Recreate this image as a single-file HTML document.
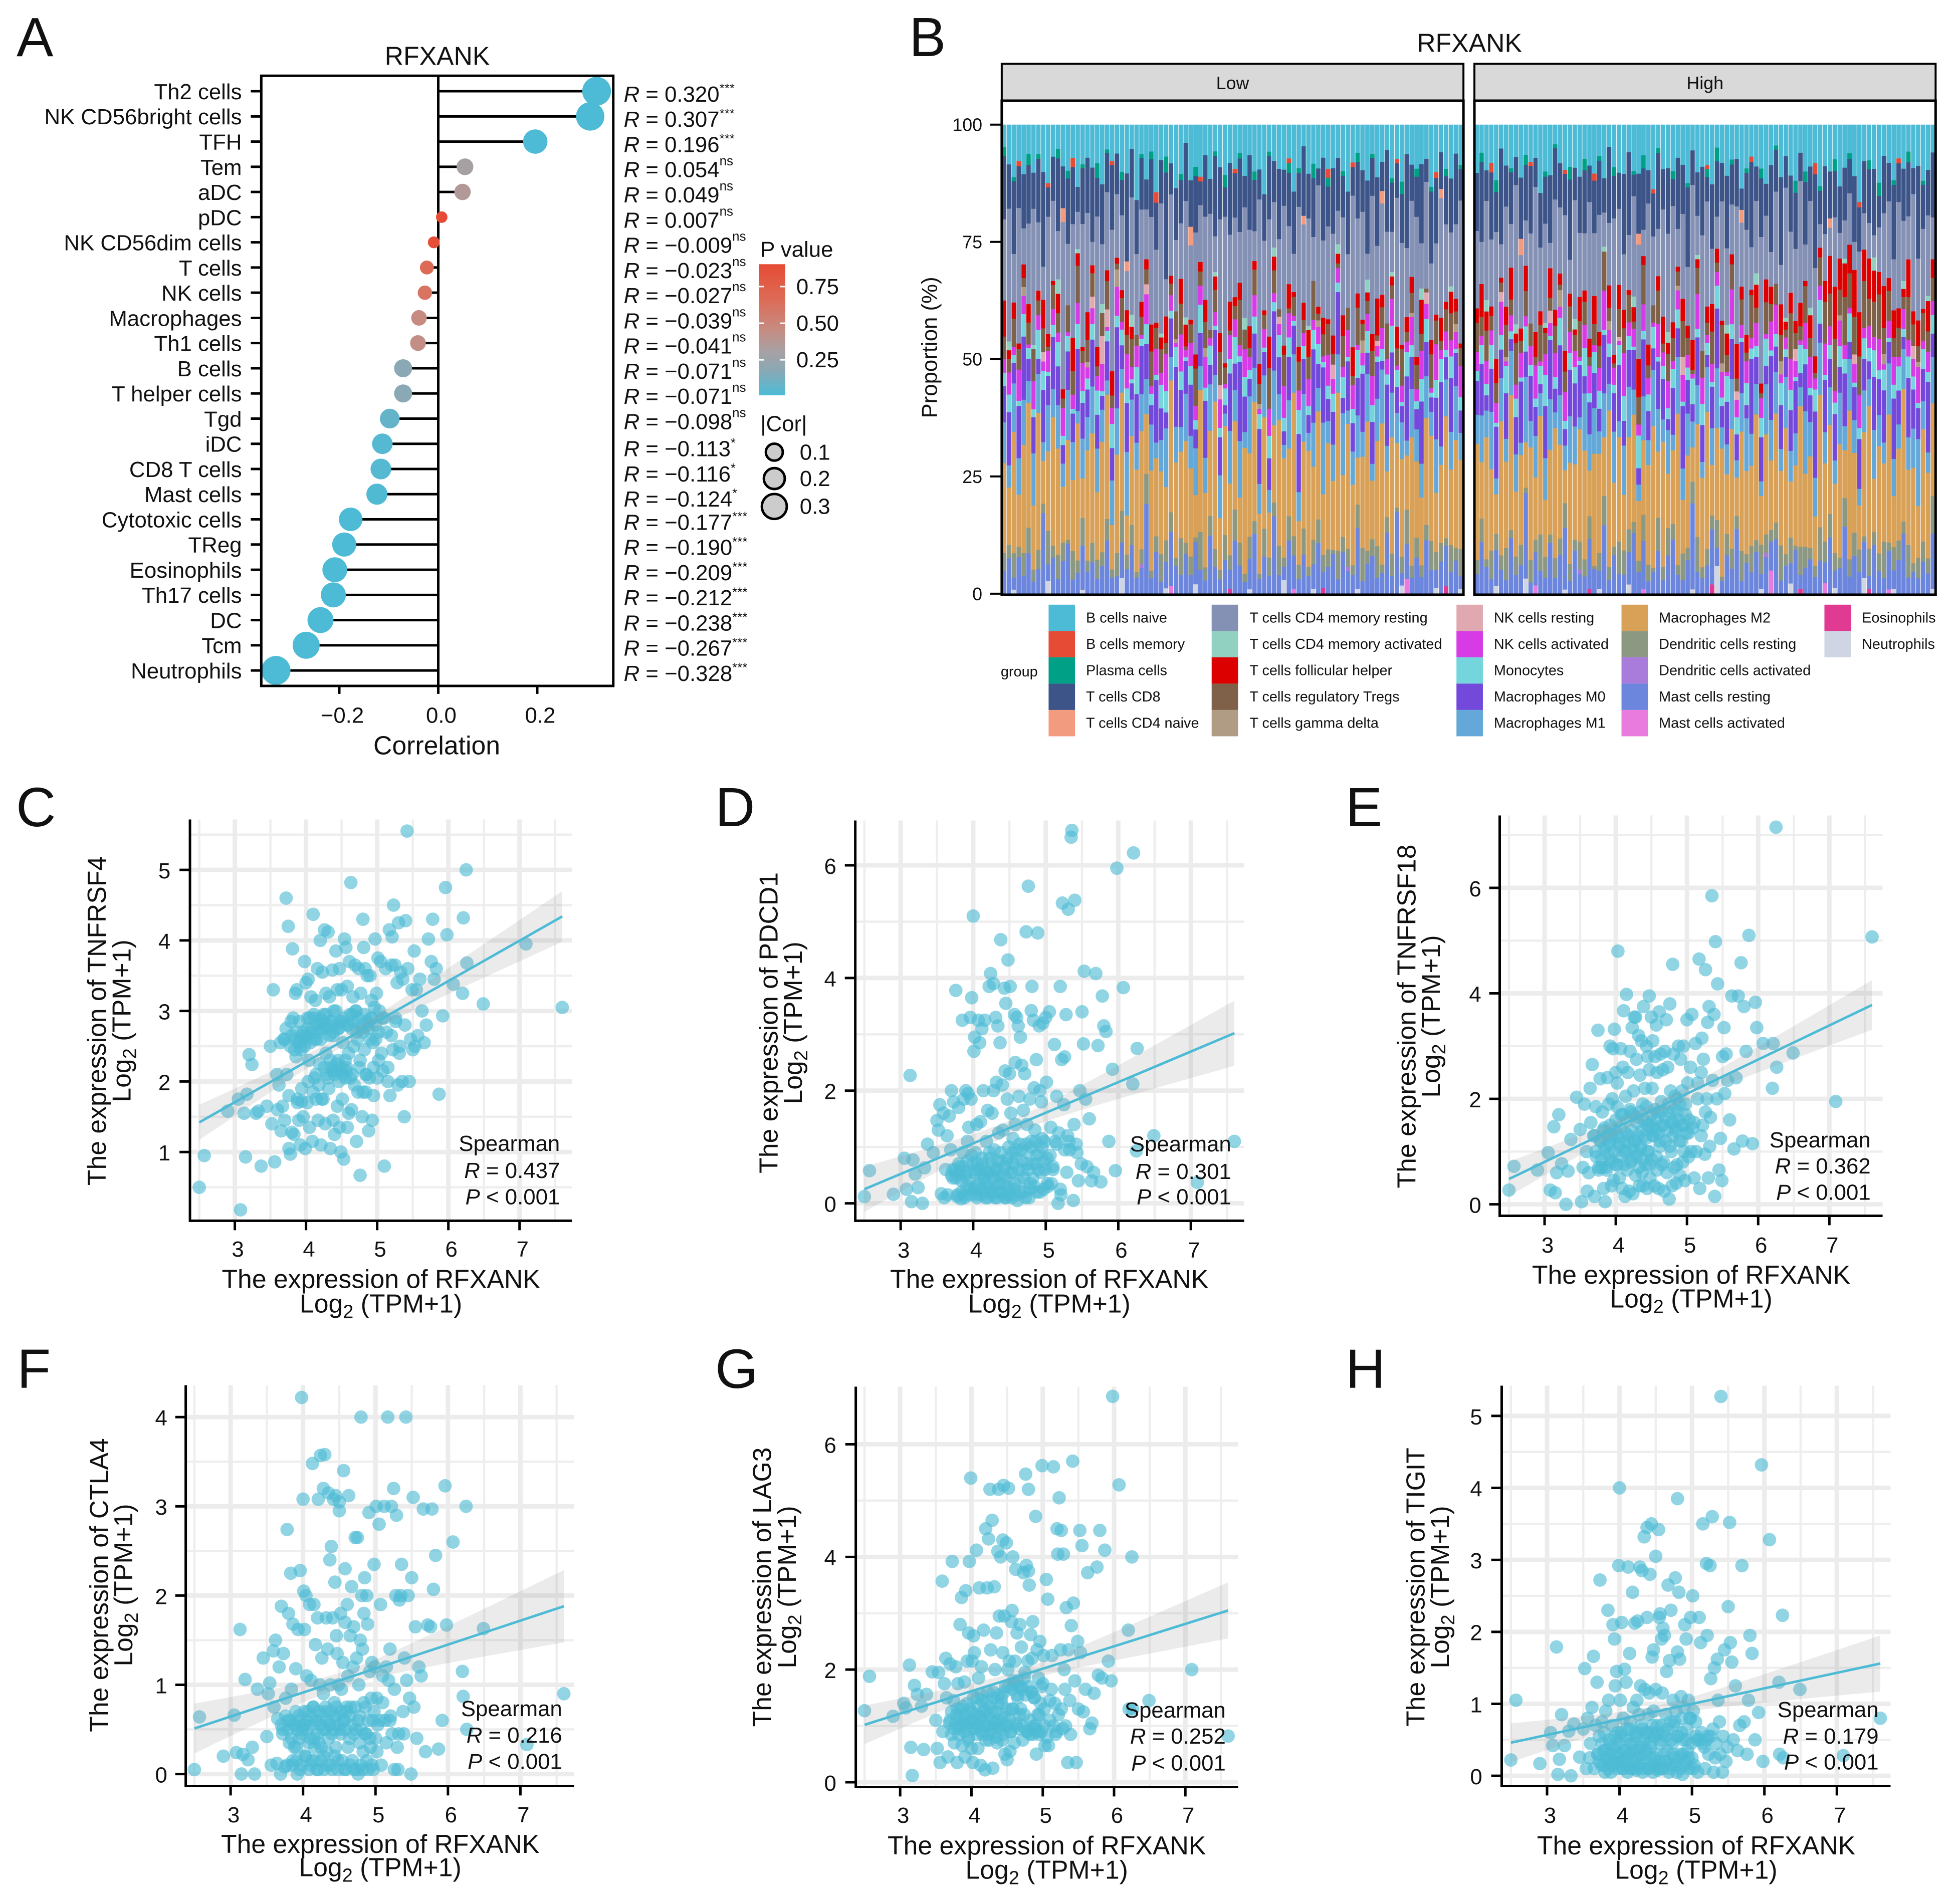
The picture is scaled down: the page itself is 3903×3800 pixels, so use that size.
<!DOCTYPE html>
<html lang="en">
<head>
<meta charset="utf-8">
<title>RFXANK immune correlation figure</title>
<style>
html,body{margin:0;padding:0;background:#fff}
svg{display:block}
text{font-family:"Liberation Sans",Arial,sans-serif;fill:#111}
</style>
</head>
<body>
<svg id="fig" xmlns="http://www.w3.org/2000/svg" width="3903" height="3800" viewBox="0 0 3903 3800">
<defs><linearGradient id="pGrad" x1="0" y1="0" x2="0" y2="1"><stop offset="0" stop-color="#E64B35"/><stop offset="0.26" stop-color="#DD6A55"/><stop offset="0.5" stop-color="#C68C82"/><stop offset="0.66" stop-color="#A8A0A3"/><stop offset="0.81" stop-color="#8AA9B5"/><stop offset="1" stop-color="#4DBBD5"/></linearGradient></defs>
<rect width="3903" height="3800" fill="#fff"/>
<text x="33" y="112" font-size="110">A</text>
<text x="1814" y="112" font-size="110">B</text>
<text x="32" y="1649" font-size="110">C</text>
<text x="1427" y="1649" font-size="110">D</text>
<text x="2685" y="1649" font-size="110">E</text>
<text x="34" y="2770" font-size="110">F</text>
<text x="1427" y="2770" font-size="110">G</text>
<text x="2685" y="2770" font-size="110">H</text>
<g id="panelA" transform="scale(.9949)"></g>
<g id="panelB" transform="translate(1780,0) scale(.9949) translate(-1780,0)"></g>
<g id="panelC" transform="translate(0,1540) scale(.9949) translate(0,-1540)"></g>
<g id="panelD" transform="translate(1440,1540) scale(.9949) translate(-1440,-1540)"></g>
<g id="panelE" transform="translate(2700,1540) scale(.9949) translate(-2700,-1540)"></g>
<g id="panelF" transform="translate(100,2680) scale(.9949) translate(-100,-2680)"></g>
<g id="panelG" transform="translate(1440,2680) scale(.9949) translate(-1440,-2680)"></g>
<g id="panelH" transform="translate(2700,2680) scale(.9949) translate(-2700,-2680)"></g>
</svg>
<script>
/* ---------- Panel A data ---------- */
const cellTypes=["Th2 cells","NK CD56bright cells","TFH","Tem","aDC","pDC","NK CD56dim cells","T cells","NK cells","Macrophages","Th1 cells","B cells","T helper cells","Tgd","iDC","CD8 T cells","Mast cells","Cytotoxic cells","TReg","Eosinophils","Th17 cells","DC","Tcm","Neutrophils"];
const correlations=[0.320,0.307,0.196,0.054,0.049,0.007,-0.009,-0.023,-0.027,-0.039,-0.041,-0.071,-0.071,-0.098,-0.113,-0.116,-0.124,-0.177,-0.190,-0.209,-0.212,-0.238,-0.267,-0.328];
const pValues=[0,0,0,0.31,0.36,0.9,0.87,0.67,0.61,0.46,0.44,0.18,0.18,0.07,0.03,0.03,0.02,0,0,0,0,0,0,0];
const significance=["***","***","***","ns","ns","ns","ns","ns","ns","ns","ns","ns","ns","ns","*","*","*","***","***","***","***","***","***","***"];
const corTicks=[-0.2,0,0.2];
const pLegendTicks=[0.75,0.5,0.25];
const corLegendValues=[0.1,0.2,0.3];

/* ---------- Panel B data: per-bar percentages ---------- */
const seriesNames=["B cells naive","B cells memory","Plasma cells","T cells CD8","T cells CD4 naive","T cells CD4 memory resting","T cells CD4 memory activated","T cells follicular helper","T cells regulatory Tregs","T cells gamma delta","NK cells resting","NK cells activated","Monocytes","Macrophages M0","Macrophages M1","Macrophages M2","Dendritic cells resting","Dendritic cells activated","Mast cells resting","Mast cells activated","Eosinophils","Neutrophils"];
const seriesColors=["#4DBBD5","#E64B35","#00A087","#3C5488","#F39B7F","#8491B4","#91D1C2","#DC0000","#7E6148","#B09C85","#E0A8B0","#D63BE6","#74D6DC","#7349DB","#63A8D8","#D8A157","#8D9882","#A97BDB","#6C86DE","#E87BDD","#E03A93","#D0D5E3"];
const proportionTicks=[100,75,50,25,0];
const groupNames=["Low","High"];
const bNaiveLow=[5,9,13,7,11,8,12,6,10,14,8,5,9,12,7,15,10,6,11,8,13,7,9,5,12,10,6,14,8,11,7,13,9,6,10,16,8,5,12,9,11,7,14,6,9,12,8,10,5,13,7,11,9,15,6,8,12,10,7,14,9,5,11,8,13,6,10,12,7,9,15,8,6,11,13,7,10,9,5,12,8,14,6,10,11,7,9,13,8,6,12,10,7,9];
const bNaiveHigh=[10,6,12,8,14,5,9,11,7,13,6,10,8,15,9,12,5,7,11,10,8,13,6,9,14,7,11,5,10,12,8,6,13,9,7,11,15,5,10,8,12,7,9,14,6,11,8,10,13,5,9,12,7,8,15,10,6,11,9,13,7,5,12,8,10,14,6,9,11,7,13,8,10,6,12,9,5,11,14,7,8,10,13,6,9,12,7,11,5,10,8,14,9,6];
const cd8Low=[14,10,18,8,12,16,9,13,20,7,11,15,9,17,12,6,14,10,19,8,13,11,16,7,9,18,12,10,14,6,15,9,11,20,8,13,7,16,10,12,5,14,9,18,11,7,15,10,13,8,17,12,6,10,14,9,19,8,11,13,7,16,10,12,5,15,9,18,11,8,14,6,12,10,17,9,13,7,16,11,8,12,19,9,10,14,6,15,11,8,13,10,17,7];
const cd8High=[12,17,8,14,10,20,9,13,6,15,11,18,7,12,9,16,13,8,10,19,6,14,11,8,15,12,7,17,10,9,13,18,6,11,14,8,10,16,9,12,7,15,11,19,8,10,13,6,14,12,9,17,8,11,5,13,16,9,12,7,15,10,20,8,11,14,6,12,9,17,7,13,10,8,9,11,6,14,8,10,12,15,7,11,9,16,8,13,10,6,18,11,9,14];
const cd4RestLow=[18,30,12,26,8,22,34,14,7,28,20,10,36,16,24,9,31,18,6,27,13,22,35,11,19,8,29,15,25,10,28,14,33,7,21,18,9,32,16,26,12,19,30,8,24,35,14,18,9,28,22,7,33,15,26,10,19,31,12,8,29,18,24,9,36,14,21,28,7,19,12,32,16,26,6,33,10,22,18,9,30,25,14,19,35,8,28,16,12,26,21,10,18,32];
const cd4RestHigh=[16,9,26,14,32,7,22,11,30,18,9,24,35,14,19,6,28,12,33,8,22,16,10,30,18,26,7,14,32,19,9,12,28,21,6,34,16,10,24,18,30,8,19,14,36,9,22,26,12,7,28,18,10,32,15,24,8,19,30,14,6,22,9,33,12,18,26,7,28,16,5,9,6,12,5,8,9,6,11,7,8,5,10,14,18,11,22,15,8,27,12,20,16,9];
const tfhLow=[8,2,4,1,3,5,0,2,6,3,1,4,2,0,7,3,1,5,2,4,0,3,6,1,2,5,3,0,4,2,7,1,3,5,2,0,4,6,1,3,2,5,0,3,4,1,6,2,3,0,5,2,4,1,7,3,0,2,5,1,3,4,6,0,2,3,1,5,2,4,0,6,3,1,2,4,7,3,0,2,5,1,3,4,2,6,0,3,1,5,2,4,3,1];
const tfhHigh=[3,7,5,2,6,1,4,8,2,3,5,0,6,3,1,7,4,2,5,3,1,6,2,4,8,3,0,5,2,6,3,1,4,7,2,5,0,3,6,2,4,1,5,3,7,2,0,4,6,3,1,5,2,8,3,4,1,6,2,5,3,0,7,2,4,3,5,1,6,3,2,4,8,9,6,7,5,10,8,6,9,7,5,8,3,6,4,2,7,3,5,1,6,4];
const tregLow=[5,3,7,4,2,6,8,3,5,1,6,4,2,7,5,9,3,4,6,2,5,8,3,1,6,4,7,2,5,3,9,4,6,2,3,7,5,1,4,8,3,6,2,5,7,4,1,3,8,5,2,6,4,3,9,5,2,7,1,4,6,3,5,8,2,4,7,3,1,6,5,2,8,4,3,6,1,5,7,3,4,9,2,5,6,3,1,7,4,2,6,5,3,4];
const tregHigh=[6,4,8,3,5,2,7,4,9,3,5,6,2,8,4,3,7,1,5,6,3,9,4,2,6,5,8,3,1,7,4,6,2,5,9,3,4,7,2,5,6,3,8,4,1,6,5,3,7,2,9,4,5,3,6,2,8,4,1,7,3,5,6,2,9,4,3,7,5,1,6,8,7,9,5,10,6,8,7,9,6,8,10,5,7,4,6,3,8,5,3,7,4,5];
const nkActLow=[3,5,2,6,4,1,7,3,2,5,4,2,6,1,3,5,7,2,4,3,6,1,4,5,2,7,3,4,1,6,2,5,3,7,4,1,6,2,5,3,4,7,2,3,6,1,5,4,2,7,3,5,1,4,6,2,3,7,5,1,4,3,6,2,5,1,7,4,3,2,6,5,1,3,4,7,2,5,3,6,1,4,2,7,3,5,4,1,6,2,5,3,4,7];
const nkActHigh=[4,2,6,3,5,7,1,4,3,6,2,5,8,1,4,3,6,2,7,5,3,1,4,6,2,5,8,3,4,1,7,3,5,2,6,4,1,7,3,5,2,4,6,3,1,8,5,2,4,3,6,1,7,4,3,5,2,6,4,1,5,7,2,3,6,4,1,5,8,2,3,6,4,2,5,3,1,4,6,2,5,3,7,1,4,6,2,5,3,4,7,2,4,3];
const monoLow=[3,4,2,1,5,3,2,6,4,1,3,5,2,4,1,6,3,2,4,5,1,3,6,2,4,3,1,5,2,4,3,1,6,4,2,5,3,1,4,2,6,3,5,1,2,4,3,6,1,5,2,4,3,1,5,2,6,3,4,1,5,3,2,4,6,1,3,5,2,4,1,3,6,2,5,4,1,3,2,6,4,1,5,3,2,4,6,1,3,5,2,4,1,3];
const monoHigh=[2,4,3,5,1,3,6,2,4,1,5,3,2,4,6,1,3,5,2,4,3,1,5,2,6,4,1,3,2,5,4,3,1,6,2,4,5,1,3,2,5,4,1,3,6,2,4,3,1,5,2,6,3,4,1,5,2,3,4,6,1,3,5,2,4,1,6,3,2,4,5,1,3,2,4,3,5,1,2,4,3,6,2,4,1,3,5,2,4,3,1,5,2,4];
const m0Low=[8,12,5,10,14,6,9,3,11,7,13,8,4,10,6,15,9,5,12,7,3,11,8,14,6,10,4,9,13,7,5,12,8,3,10,15,6,9,11,4,7,13,5,10,8,2,12,6,14,9,4,8,11,5,7,13,10,3,9,6,12,8,4,15,7,10,5,9,13,3,11,6,8,14,5,10,7,2,12,9,6,4,13,8,5,11,9,3,7,14,6,10,8,5];
const m0High=[7,11,4,9,13,6,10,3,8,15,5,12,7,2,10,14,6,9,4,11,8,13,3,7,10,5,12,6,9,14,4,8,11,3,13,7,5,10,9,2,12,6,14,8,4,11,7,3,9,13,5,10,8,6,12,3,14,7,9,4,11,6,10,5,8,13,3,9,7,12,4,10,6,8,5,11,3,7,9,6,4,12,8,10,5,13,7,3,11,9,6,8,14,5];
const m1Low=[9,5,12,7,10,6,13,8,4,11,7,9,5,13,8,3,10,6,12,9,7,4,11,8,6,13,9,5,10,7,12,3,8,11,6,9,4,13,7,10,5,8,12,6,9,3,11,7,10,4,13,8,6,9,5,12,7,3,10,8,6,11,4,9,7,13,5,10,8,12,3,7,9,6,11,4,8,13,5,10,7,9,3,12,8,6,11,5,9,4,10,7,13,6];
const m1High=[6,10,7,12,4,9,5,11,8,3,13,7,10,5,8,12,4,9,6,11,7,3,10,8,13,5,9,6,12,4,8,11,7,3,10,6,13,9,5,8,4,12,7,10,6,9,3,11,8,13,5,7,10,4,9,12,6,8,3,11,7,10,5,13,6,8,4,12,9,7,11,6,8,4,10,5,9,7,3,8,6,11,7,4,12,8,5,10,6,9,13,7,4,10];
const m2Low=[20,13,30,10,24,34,16,28,9,19,32,22,12,26,15,33,10,20,28,14,24,35,11,17,30,8,22,19,32,12,26,15,21,10,34,24,14,28,19,9,30,17,22,33,11,26,15,20,8,32,19,28,12,24,10,17,34,22,14,30,9,20,26,15,32,11,24,19,33,12,28,17,10,22,30,14,20,34,9,26,15,24,11,32,19,12,28,22,10,17,33,14,26,20];
const m2High=[24,12,32,17,10,28,19,34,14,22,9,30,15,26,11,20,33,17,8,24,14,28,19,10,32,22,12,35,15,26,9,20,30,11,17,24,33,14,28,10,19,32,12,22,8,26,17,34,11,20,30,14,24,9,28,19,15,33,10,22,12,26,17,32,11,20,30,14,24,9,28,15,19,12,22,10,26,17,8,20,32,12,24,15,30,11,19,33,14,22,10,28,17,20];
const dcRestLow=[4,3,6,2,5,7,3,4,2,8,3,5,4,1,6,3,7,2,5,4,3,6,2,4,8,3,5,1,4,6,2,3,7,4,5,2,6,3,4,1,8,3,5,4,2,6,3,7,4,2,5,3,1,6,4,3,8,2,5,4,3,6,2,5,7,3,4,1,6,3,4,2,5,8,3,4,6,2,3,5,1,4,7,3,5,2,4,6,3,4,2,5,3,6];
const dcRestHigh=[3,5,2,6,4,3,7,2,4,5,1,6,3,8,4,2,5,3,6,4,2,7,3,5,1,4,6,3,2,8,4,5,3,2,6,4,1,7,3,5,4,2,6,3,5,8,2,4,3,6,1,5,4,3,7,2,5,3,6,4,2,4,8,3,5,1,6,4,3,2,7,4,5,3,2,6,3,5,4,1,6,3,4,7,2,5,4,3,6,2,4,5,3,8];
const mastRestLow=[5,8,3,7,4,11,3,5,17,4,9,3,7,13,3,5,11,4,8,3,6,15,4,3,9,5,12,3,7,18,4,8,3,5,14,7,3,11,4,9,5,3,15,6,3,8,4,12,5,3,7,14,3,8,4,17,5,3,11,7,3,9,4,5,15,3,6,11,3,8,5,4,13,3,7,9,3,5,12,4,19,3,7,4,9,3,14,5,3,7,11,4,8,3];
const mastRestHigh=[4,11,7,3,9,5,3,14,4,7,17,3,8,5,3,12,4,7,15,3,8,5,3,11,7,4,14,3,9,5,3,7,17,4,11,3,5,9,3,7,14,4,3,8,20,5,3,7,12,4,3,9,5,15,3,7,4,11,3,8,5,13,3,7,4,11,3,5,9,3,7,4,12,3,5,14,3,8,4,7,3,11,5,3,9,4,7,15,3,5,3,8,4,12];
/* Rare populations: bar number (0-93 Low, 94-187 High) and percentage */
const bMemoryBars=[3,9,14,22,31,40,47,58,66,71,80,88,97,105,112,118,130,141,150,163,172,180];
const bMemoryVals=[1,1,2,1,2,1,1,1,2,1,1,1,2,1,1,2,1,1,1,2,1,1];
const plasmaBars=[0,2,5,7,11,13,16,19,21,24,28,30,33,36,39,43,45,48,51,54,58,60,63,66,69,72,75,79,81,84,87,90,93,95,98,101,104,108,110,113,116,119,122,126,128,131,134,137,141,143,146,149,152,155,159,161,164,167,170,174,176,179,182,185];
const plasmaVals=[2,1,3,1,2,2,1,3,1,2,1,2,3,1,2,1,3,1,2,1,2,1,3,2,1,2,1,1,3,2,1,2,1,2,3,1,2,1,1,3,2,1,2,1,3,1,2,1,2,3,1,1,2,1,3,2,1,2,1,2,3,1,2,1];
const cd4NaiveBars=[12,25,38,61,77,89,103,127,148,166];
const cd4NaiveVals=[3,2,4,2,3,2,4,2,3,2];
const cd4ActBars=[1,6,11,15,20,26,32,37,43,49,55,62,68,74,79,85,91,96,102,108,114,120,126,133,139,145,151,157,162,169,175,181,186];
const cd4ActVals=[2,1,3,1,2,3,1,2,1,3,2,1,2,3,1,2,1,3,2,1,2,1,3,2,1,2,3,1,2,1,3,2,1];
const gammaDeltaBars=[4,17,23,35,41,52,64,73,83,92,100,111,121,135,144,156,168,177,184];
const gammaDeltaVals=[2,1,3,1,2,1,2,3,1,2,1,3,2,1,2,3,1,2,1];
const nkRestBars=[8,18,20,21,29,44,56,67,76,86,99,109,123,136,147,159,171,183];
const nkRestVals=[2,3,6,5,2,3,2,4,1,3,2,3,1,4,2,3,2,3];
const dcActBars=[28,70,115,153];
const dcActVals=[1,1,1,1];
const mastActBars=[34,59,82,106,128,154,165,178];
const mastActVals=[2,1,3,2,1,4,2,1];
const eosBars=[46,65,90,117,142,160,174];
const eosVals=[1,1,2,1,2,1,1];
const neutBars=[2,9,16,24,33,39,50,57,63,72,81,88,93,98,104,112,119,125,138,143,152,158,167,173,179,187];
const neutVals=[1,3,1,4,1,2,1,3,1,1,2,1,1,2,3,1,1,2,1,6,1,2,1,3,1,1];

/* ---------- Scatter data: shared RFXANK x values in blocks, y per gene ---------- */
const rfxankBlocks=[
[2.5,2.57,2.9,3.05,3.08,3.13,3.15,3.17,3.2,3.24,3.3,3.33,3.37,3.45,3.5],
[3.52,3.54,3.56,3.59,3.6,3.62,3.64,3.65,3.67,3.69,3.7,3.72,3.73,3.75,3.76,3.78,3.79,3.8,3.81,3.83,3.84,3.85,3.86,3.87,3.88,3.9,3.91,3.92,3.93,3.94,3.95,3.96,3.97,3.98,3.99,4],
[4.01,4.02,4.02,4.03,4.04,4.05,4.07,4.08,4.09,4.1,4.11,4.12,4.13,4.14,4.15,4.16,4.17,4.18,4.19,4.2,4.21,4.22,4.23,4.24,4.25,4.26,4.27,4.28,4.28,4.29,4.3,4.31,4.32,4.33,4.34,4.35,4.36,4.37,4.38,4.38,4.39,4.4,4.41,4.42,4.43,4.44,4.44,4.45,4.46,4.47,4.47,4.48,4.49,4.5,4.5,4.51,4.52,4.53,4.54,4.55],
[4.56,4.57,4.58,4.58,4.59,4.6,4.61,4.62,4.63,4.64,4.65,4.66,4.67,4.68,4.69,4.7,4.71,4.72,4.73,4.74,4.75,4.76,4.77,4.78,4.79,4.8,4.8,4.81,4.82,4.83,4.84,4.85,4.86,4.87,4.88,4.89,4.9,4.91,4.92,4.93,4.94,4.95,4.96,4.97,4.98,4.99,5,5.01,5.02,5.03],
[5.05,5.07,5.08,5.1,5.12,5.13,5.15,5.17,5.18,5.2,5.21,5.22,5.23,5.25,5.26,5.28,5.29,5.3,5.31,5.33,5.35,5.36,5.38,5.39,5.4,5.42,5.43,5.45,5.47,5.49],
[5.5,5.52,5.53,5.55,5.57,5.6,5.63,5.66,5.69,5.72,5.76,5.78,5.8,5.83,5.87,5.92,5.96,5.98],
[6.07,6.2,6.21,6.25,6.26,6.49,7.09,7.6],
[3.7,3.72,3.76,3.78,3.8,3.82,3.84,3.86,3.88,3.9,3.91,3.92,3.94,3.96,3.98,4,4.02,4.03,4.05,4.06,4.08,4.1,4.11,4.12,4.14,4.15,4.16,4.18,4.2,4.21,4.22,4.24,4.25,4.26,4.28,4.3,4.31,4.33,4.34,4.35,4.37,4.38,4.4,4.42,4.43,4.45,4.46,4.48,4.5,4.52,4.53,4.55,4.57,4.58,4.6,4.62,4.64,4.65,4.67,4.7,4.72,4.74,4.76,4.78,4.8,4.82,4.84,4.86,4.88,4.9,4.92,4.95,4.98,5.02,5.06,5.1,5.15,5.2,5.26,5.32]];
const tnfrsf4=[
[.5,.95,1.58,1.75,.18,1.55,.93,1.82,2.38,2.24,1.55,1.58,.8,1.65,2.5],
[1.4,3.3,.86,2.1,1.6,1.95,2.55,1.3,1.65,2.6,1.45,4.6,2.1,4.2,1.05,.97,2.85,1.28,3.88,1.25,2.6,3.25,2.35,3.3,1.75,1.45,2.5,1.1,2.45,1.72,2.65,1.5,2.62,3.7,1.05,3.4],
[2.6,2.9,1.7,3.45,2.3,1.35,3.2,2.75,1.15,4.37,2.9,2.05,3.15,1.75,2.6,3.6,1.45,2.85,2.25,4,1.1,2.75,3.55,1.75,2.95,4.15,1.4,2.4,3.25,2.1,2.75,4.12,1.9,3.2,1.05,2.85,2.2,3.58,1.45,2.65,3,1.25,2.15,3.85,2.8,1.65,3.3,2.3,2.75,1.35,3.6,2.15,1,2.85,3.3,1.75,2.55,.9,4.02,2.05],
[3.9,2.2,1.35,3.35,2.8,1.55,3.7,2.05,4.82,1.6,2.95,3.2,2.5,1.95,3.65,3,1.15,2.7,1.85,3.6,2.2,.67,3.25,2.75,1.5,4.3,1.85,3.9,2.45,3.6,1.85,2.1,3.5,2.8,1.3,2.05,3.5,2.9,3.15,1.45,2.55,1.8,3.05,4.02,2.6,3.25,2.05,3.75,2.3,3],
[3.7,2.9,2.15,.8,3.6,2.7,2,4.15,1.8,3.65,4.05,2.45,4.5,3.65,2.9,3.4,1.95,4.25,2.4,3.55,2,3.45,1.5,2.8,4.28,5.55,3.6,2,2.6,3.3],
[2.45,3.85,2.5,3.3,2.65,3.45,3,2.55,2.8,4.02,3.7,4.3,3.45,3.6,1.82,2.93,4.75,4.08],
[3.38,3.25,4.32,5,3.68,3.1,3.95,3.05],
[2.6,2.75,1.8,2.5,2.65,2.9,2.45,2.7,1.7,2.55,2.85,2.6,1.9,2.7,2.5,2.65,2.75,2,2.9,2.55,2.7,1.85,2.95,2.6,2.1,2.8,2.7,1.95,2.9,2.6,1.75,2.85,2.75,2.2,2.95,2.8,2.05,2.65,2.3,2.85,2.15,2.7,2.1,3,2.25,2.75,2,2.85,2.2,2.1,2.9,2.3,2.15,2.8,2.4,2.95,2.75,2.1,2.85,3,2.6,2.9,2.3,2.8,2.7,2.95,2.1,2.85,2.75,2.6,2.9,2.2,2.8,2.7,2.4,2.9,2.2,2.65,2.85,2.5]];
const pdcd1=[
[.12,.58,.16,.8,.25,2.27,.03,.77,.52,.28,0,.63,1.05,.9,1.47],
[1.3,1.75,.17,1.6,.1,.6,1.2,.15,1.55,.95,2,.45,1.8,.6,3.78,.12,.5,1.7,.65,.08,.4,3.25,.9,1.85,.15,2,.55,1.1,1.95,1.35,.25,3.3,1.85,3.65,.7,5.1],
[2.7,.3,2.95,.9,.15,1.4,3.25,.6,2.85,1.45,.25,3.1,.7,2,.45,3.25,.1,1.1,.55,1.65,.3,3.85,.8,4.08,.2,1.6,.5,2,3.9,.95,.1,3.3,2.15,.6,3.15,1.25,.35,2.85,4.68,.2,.75,2.1,1.3,.5,3.82,.1,2.35,3.55,.7,1.85,.3,4.32,1,2.3,.15,3.85,1.6,.55,.9,1.15],
[.25,3.35,2.5,1.4,.8,3.3,.05,3.15,1.9,.4,2.95,.95,2.45,.6,1.65,.2,2.3,1.05,4.82,1.4,.7,5.63,.1,1.85,.35,3.42,1.1,3.85,.45,3.25,2.05,1.3,.7,2.55,.2,4.8,.9,3.15,2,.55,1.8,1.15,3.2,.25,1.1,.6,3.3,2.15,.8,.3],
[3.4,1.35,.35,.65,2.82,1.1,1.9,0,1.25,3.85,.15,2.55,5.33,1.75,2.6,3.35,.55,1.2,5.22,.95,6.5,6.62,.05,1.4,5.38,1.05,.9,.4,2,.7],
[3.4,2.83,4.12,1.85,.65,1.5,.4,.55,4.08,2.8,.38,3.68,3.15,3.05,1.1,2.38,.58,5.95],
[3.83,2.12,6.22,.93,2.75,1.2,.37,1.1],
[.5,.6,.45,.15,.7,.55,.2,.65,.1,.5,.3,.75,.4,.15,.85,.55,.25,.6,.1,.7,.35,.5,.15,.8,.45,.2,.6,.35,.1,.55,.9,.25,.7,.15,.45,.6,.3,.1,.75,.5,.2,.9,.35,.15,.65,.1,.45,.8,.25,.55,.1,.7,.35,.95,.15,.6,1.05,.2,.75,.45,.1,.9,.6,.25,1,.7,.3,1.1,.85,.6,.2,1,.75,.35,.85,.6,1.05,.25,.95,1.1]];
const tnfrsf18=[
[.27,.72,.65,.98,.27,1.47,.22,.6,1.7,.77,0,.63,1.23,2.03,1.42],
[.05,.7,1.9,1,.25,.6,2.2,1.55,2.65,1.3,.15,1.85,.9,3.3,.65,2.38,1.2,.7,1.75,.3,1.45,.05,1.1,.65,2.4,1.9,.85,3,1.3,.35,2,2.95,.45,3.32,1.4,2.5],
[.75,1.85,2.3,4.8,1.15,.5,2.95,1.7,.3,2.6,3.67,1,.15,2.05,3.98,.65,2.5,1.3,.25,2.9,1.75,.85,3.35,.2,2.15,3.55,1.2,.55,3.55,2.75,.95,1.65,3.2,.35,2.45,1.05,3.1,.6,1.9,.35,3.75,1.3,2.2,.75,3,1.5,.3,2.8,1,3.95,2.55,.5,1.55,3.55,.85,2.2,3.1,1.3,.35,2.8],
[1.4,3.4,.65,2.5,1.75,.3,3.65,1.1,2.85,1.95,.75,2.55,1.5,.25,2.9,1.2,3.5,.6,2.6,1.75,.1,3.8,2.15,1,.35,4.55,1.55,2.85,.7,2.05,1.4,.4,2,1.75,3,1.2,.55,2.75,1.5,2.15,.8,3,1,.45,1.9,1.35,3.5,2.3,.9,1.6],
[2.6,3.6,1.45,.5,3.05,1,2.3,4.65,.3,2.5,3.15,1.5,2.75,.95,4.45,2,3.45,.5,3.75,1.65,5.85,2.35,3.6,.15,4.98,2,4.18,.65,1.25,.45],
[2.8,3.35,2.1,2.85,2.35,1.6,3.95,1.05,2.4,3.95,4.58,1.2,3.75,2.9,5.1,1.15,3.83,3.35],
[3.05,2.2,3.05,7.15,2.6,2.87,1.95,5.07],
[1.3,1,.7,1.2,.85,1.4,1.05,.7,1.3,.95,1.15,1.5,.8,1.25,1,1.6,.75,1.3,1.1,1.45,.9,1.7,1.2,.75,1.35,1,1.6,1.15,1.8,.8,1.4,1.05,1.7,1.2,.9,1.55,1.3,.7,1.75,1.1,1.4,.85,1.6,1.25,1.85,1,1.5,.75,1.7,1.3,1.45,1.8,.9,1.6,1.35,1.2,1.75,1.5,.8,1.65,1.4,1.9,1.1,1.55,1.3,1.8,1.45,.75,1.6,1.9,1.2,1.5,1.7,1.35,1,1.55,2,1.3,1.75,1.1]];
const ctla4=[
[.05,.64,.2,.66,.24,1.62,0,.22,1.06,.16,.3,0,.95,1.3,.42],
[.9,1.02,.1,1.38,.75,1.5,.12,.62,1.2,0,1.88,.5,1.35,.08,.85,2.74,.6,1.8,.35,2.25,.95,.1,1.68,.55,.3,1.18,.15,0,1.62,.65,.4,2.28,.1,4.22,.5,3.08],
[2.05,.55,1.62,.2,2,1.1,.7,.05,1.9,.4,1.05,.15,3.48,.75,1.9,.3,1.45,.6,.05,1.75,3.08,.35,1,3.57,.15,1.3,.5,3.2,.9,.05,3.58,.7,1.75,.25,1.4,3.15,.55,2.4,1,.1,2.55,.45,1.75,3.08,.8,2.15,.2,3.12,1.55,.65,1.35,.05,1,3.05,2.95,.5,1.8,.95,.15,1.25],
[3.4,.6,2.3,1.7,.05,.7,1.9,1.1,3.12,.4,1.55,.75,2.1,.15,1.2,1.65,.05,2.65,.5,1.3,2.65,0,1,.65,1.5,4,.1,2,1.4,.25,1.8,2.2,.75,.45,2,1.68,.05,2.93,1.15,.3,.85,1.25,.6,.05,2.35,1.2,.4,3,.85,.55],
[2.8,1.9,.1,1.1,3,.6,1.2,4,1.05,1.4,.65,3,.45,3.2,.95,2,2.9,.3,.05,1.95,2,2.35,.7,.45,1.3,4,1.05,2,.85,0],
[2.2,3.1,.75,1.65,.4,1.2,1.1,2.97,.25,1.67,1.65,2.97,2.07,2.45,.28,.6,3.23,1.67],
[2.6,1.15,.87,3,.5,1.63,.33,.9],
[.55,.45,.65,.1,.5,.6,.4,.15,.55,.7,.3,.5,.6,.05,.45,.55,.7,.2,.6,.5,.35,.65,.1,.55,.75,.4,.15,.6,.45,.05,.7,.55,.3,.65,.2,.5,.75,.1,.6,.4,.55,.7,.05,.5,.65,.3,.75,.15,.55,.45,.7,.6,.05,.5,.75,.3,.65,.1,.55,.45,.75,.05,.6,.35,.5,.05,.8,.45,.15,.6,.4,.1,.7,.25,.6,.8,.35,.6,.05,.45]];
const lag3=[
[1.27,1.88,1.17,1.4,1.32,2.08,.62,.12,1.72,1.56,1.35,.58,1.56,1.96,1.1],
[.6,1.95,.35,3.57,.9,1.75,2.2,1.5,.45,1.05,2.1,.85,3.92,1.45,.7,2.05,1.2,.35,1.75,.95,2.8,1.3,3.28,.65,1.1,1.78,.45,3.4,1,2.15,.75,2.65,3.92,1.3,5.4,.6],
[2.15,.35,1.1,2.6,2.3,.95,4.12,1.5,.6,1.85,3.45,1.15,.3,2.05,1.45,.85,2.7,1.3,.22,4.5,1,3.45,1.6,4.32,.75,5.2,2.35,1.25,.9,4.65,.25,1.5,3.47,2,1.05,2.65,.7,4.1,1.55,5.2,2.95,1,4,1.4,.75,4.3,2.3,5.27,2.95,1.15,.5,1.7,4.25,.4,1,2,5.22,2.15,.55,.9],
[2.85,3.05,1.3,4,1.8,.7,2.15,3.78,1.05,2.65,1.5,1.7,.95,2.8,1.3,2.4,1.65,.75,3.72,1.2,1.95,5.47,3.85,.9,2.15,5.2,3.75,3.5,.85,2.62,1.6,2.2,2.85,1,1.5,.95,4.72,.5,2.35,1.2,1.85,.85,2.5,1.4,.9,5.62,1.75,2.25,1.3,.65],
[3.6,3.25,.65,1.1,1.65,2.25,5.6,1.4,.85,4.5,4.05,1.2,5.05,2.35,4.47,.95,4.05,2,1.65,3.1,.35,2.35,1.45,.85,2.78,5.7,3.18,1.8,.35,2.5],
[1.3,4.47,2.3,4.2,1.25,1.65,3.72,.95,1.05,1.58,3.82,1.9,4.47,1.85,4.12,2.15,1.8,6.85],
[5.28,2.7,1.3,4,1.3,1.45,2,.82],
[1.1,1.25,.95,1.05,1.3,.85,1.15,1,1.35,.9,1.2,1.05,1.4,.8,1.1,1.25,.95,1.5,1.05,1.2,.85,1.35,1,1.15,1.55,.9,1.1,1.25,.75,1.45,1,1.2,.85,1.35,1.1,.95,1.6,1.05,1.25,.8,1.4,1.1,.95,1.5,1.2,.85,1.6,1,1.3,1.7,1.1,.9,1.65,1.3,1.75,1,1.55,1.8,1.2,1.7,1,1.85,1.55,.9,1.7,1.1,1.6,.85,1.5,1,.9,1.2,1.7,1,.8,1.45,1,.9,1.3,1]];
const tigit=[
[.22,1.05,.17,.6,.42,1.79,.02,.23,.85,.42,.62,0,.72,.26,.65],
[1.49,.1,.8,.25,.45,.95,1.66,.1,.7,1.3,.3,.55,2.72,.15,.75,.35,.6,.05,.9,.2,2.3,1.05,.3,.45,.05,.7,2.1,.15,1.9,1.25,.4,1.45,.6,.25,2.92,4],
[1.05,.2,.55,2.13,.1,.8,1.48,.35,1.3,.65,.05,2.9,.3,1.7,.75,.1,.45,2.55,.95,.2,2.12,.6,.08,1.05,2.15,.35,.85,2.9,.15,1.25,.7,2.85,.05,.45,3.32,1.2,.3,.6,3.45,2.2,.1,.85,1.15,2.8,.4,3.5,.6,1.65,.05,.9,1.75,.25,.55,3.05,1.2,.15,.7,.08,3.42,2.2],
[2.25,.5,1.9,.1,1.15,2.05,.6,1.95,.2,.85,1.45,.35,2.65,.05,1.6,.75,2.3,.15,.45,1.05,.7,.25,2.75,.9,.05,3.85,1.72,.55,2.55,1.62,.3,1.1,.8,.02,.5,.95,2.1,.2,1.9,.65,.35,1.05,.1,.8,2.2,.45,.25,2.5,.9,.15],
[.75,.5,.05,2.2,1.85,.6,3.5,.4,.1,2.95,1.95,.55,.3,2.92,1.35,3.6,.65,.05,1.5,.45,1.62,1.05,.75,.3,5.27,.05,.55,1.75,.2,.4],
[2.35,3.52,1.85,1.58,.5,1.25,.35,.7,2.92,.75,.3,1.05,1.95,1.7,.5,.88,4.32,.2],
[3.28,1.3,.3,2.23,.25,1.2,.28,.8],
[.3,.2,.45,.15,.35,.25,.1,.5,.3,.15,.4,.2,.55,.1,.3,.45,.2,.6,.1,.35,.25,.5,.15,.3,.65,.1,.45,.2,.35,.55,.1,.25,.6,.15,.4,.3,.65,.1,.5,.2,.35,.6,.1,.45,.25,.7,.15,.55,.3,.1,.6,.2,.45,.7,.1,.3,.55,.2,.65,.1,.5,.3,.75,.15,.55,.25,.1,.6,.3,.15,.5,.25,.8,.1,.55,.5,.45,.5,.55,.25]];
const xTicks=[3,4,5,6,7];
const xMinorTicks=[2.5,3.5,4.5,5.5,6.5,7.5];
const fitXRange=[2.5,7.6];
const yTicksC=[1,2,3,4,5];
const yMinorC=[.5,1.5,2.5,3.5,4.5,5.5];
const yTicksD=[0,2,4,6];
const yMinorD=[1,3,5];
const yTicksE=[0,2,4,6];
const yMinorE=[1,3,5,7];
const yTicksF=[0,1,2,3,4];
const yMinorF=[.5,1.5,2.5,3.5];
const yTicksG=[0,2,4,6];
const yMinorG=[1,3,5];
const yTicksH=[0,1,2,3,4,5];
const yMinorH=[.5,1.5,2.5,3.5,4.5];
const fitC=[1.42,4.34], bandC=[.08,.115];
const fitD=[.25,3.02], bandD=[.13,.185];
const fitE=[.48,3.78], bandE=[.11,.15];
const fitF=[.51,1.88], bandF=[.085,.13];
const fitG=[1.02,3.05], bandG=[.1,.16];
const fitH=[.46,1.56], bandH=[.08,.125];

/* ---------- Helpers ---------- */
const NS=document.getElementById('fig').namespaceURI;
function mk(parent,tag,attrs){
  const el=document.createElementNS(NS,tag);
  for(const k in attrs)el.setAttribute(k,attrs[k]);
  parent.appendChild(el);
  return el;
}
function label(parent,x,y,str,size,anchor,name){
  const el=mk(parent,'text',{x:x,y:y,'font-size':size,'text-anchor':anchor||'start'});
  el.textContent=str;
  
  
  return el;
}
function seg(parent,x1,y1,x2,y2,color,width,name){
  const el=mk(parent,'line',{x1:x1,y1:y1,x2:x2,y2:y2,stroke:color,'stroke-width':width});
  
  
  return el;
}
function fmtCor(v){return (v<0?'\u2212':'')+Math.abs(v).toFixed(1);}

/* ---------- Panel A ---------- */
(function(){
  const g=document.getElementById('panelA');
  const corX=v=>879+v*992.5;
  const rowY=i=>183+i*50.52;
  const colorStops=[[0,77,187,213],[.19,138,169,181],[.34,168,160,163],[.5,198,140,130],[.74,221,106,85],[1,230,75,53]];
  const pMix=p=>{
    const t=Math.max(0,Math.min(1,(p-0.008)/0.895));
    let k=0;
    while(k<colorStops.length-2&&t>colorStops[k+1][0])k++;
    const a=colorStops[k],b=colorStops[k+1],f=(t-a[0])/(b[0]-a[0]);
    return 'rgb('+[1,2,3].map(i=>Math.round(a[i]+(b[i]-a[i])*f)).join(',')+')';
  };
  const dotR=c=>8.5+36*Math.sqrt(Math.abs(c));
  label(g,877,130,'RFXANK',52,'middle','lollipop-title');
  cellTypes.forEach((n,i)=>{
    label(g,485,rowY(i)+16,n,44,'end','row-label');
    seg(g,503,rowY(i),524,rowY(i),'#000',5,'row-tick');
  });
  correlations.forEach((c,i)=>{
    seg(g,corX(0),rowY(i),corX(c),rowY(i),'#000',5,'lollipop-stem');
  });
  seg(g,corX(0),152,corX(0),1376,'#000',5,'zero-line');
  correlations.forEach((c,i)=>{
    const dot=mk(g,'circle',{cx:corX(c),cy:rowY(i),r:dotR(c),fill:pMix(pValues[i])});
    
    
  });
  const box=mk(g,'rect',{x:524,y:152,width:706,height:1224,fill:'none',stroke:'#000','stroke-width':5});
  
  
  corTicks.forEach(t=>{
    seg(g,corX(t),1376,corX(t),1392,'#000',5,'x-tick');
    label(g,corX(t)+6,1450,fmtCor(t),44,'middle','x-tick-label');
  });
  label(g,876,1513,'Correlation',52,'middle','x-axis-title');
  correlations.forEach((c,i)=>{
    const star=significance[i]==='*';
    const t=label(g,1251,rowY(i)+21+(star?4:0),'',44,'start','correlation-value');
    const r=mk(t,'tspan',{'font-style':'italic'});r.textContent='R';
    const v=mk(t,'tspan',{});v.textContent=' = '+(c<0?'\u2212':'')+Math.abs(c).toFixed(3);
    const s=mk(t,'tspan',{dy:significance[i]==='ns'?-24:-18,'font-size':26});s.textContent=significance[i];
  });
  label(g,1525,515,'P value',44,'start','p-legend-title');
  const bar=mk(g,'rect',{x:1522,y:530,width:53,height:263,fill:'url(#pGrad)'});
  
  
  const pY=p=>793-(p-0.008)*294;
  pLegendTicks.forEach(p=>{
    seg(g,1522,pY(p),1532,pY(p),'#fff',3,'p-legend-tick');
    seg(g,1565,pY(p),1575,pY(p),'#fff',3,'p-legend-tick');
    label(g,1597,pY(p)+15,p.toFixed(2),44,'start','p-legend-label');
  });
  label(g,1525,865,'|Cor|',44,'start','cor-legend-title');
  const cy=[907,960,1016], cr=[17,21,25];
  corLegendValues.forEach((v,i)=>{
    const d=mk(g,'circle',{cx:1553,cy:cy[i],r:cr[i],fill:'#ccc',stroke:'#000','stroke-width':5});
    
    
    label(g,1604,cy[i]+15,v.toFixed(1),44,'start','cor-legend-label');
  });
})();

/* ---------- Panel B ---------- */
const denseSeries={0:[bNaiveLow,bNaiveHigh],3:[cd8Low,cd8High],5:[cd4RestLow,cd4RestHigh],7:[tfhLow,tfhHigh],8:[tregLow,tregHigh],11:[nkActLow,nkActHigh],12:[monoLow,monoHigh],13:[m0Low,m0High],14:[m1Low,m1High],15:[m2Low,m2High],16:[dcRestLow,dcRestHigh],18:[mastRestLow,mastRestHigh]};
const sparseSeries={1:[bMemoryBars,bMemoryVals],2:[plasmaBars,plasmaVals],4:[cd4NaiveBars,cd4NaiveVals],6:[cd4ActBars,cd4ActVals],9:[gammaDeltaBars,gammaDeltaVals],10:[nkRestBars,nkRestVals],17:[dcActBars,dcActVals],19:[mastActBars,mastActVals],20:[eosBars,eosVals],21:[neutBars,neutVals]};
const barCount=bNaiveLow.length;
function seriesValue(s,p,i){
  const d=denseSeries[s];
  if(d)return d[p][i]||0;
  const sp=sparseSeries[s];
  const k=sp[0].indexOf(p*barCount+i);
  return k<0?0:sp[1][k];
}
(function(){
  const g=document.getElementById('panelB');
  const panelX=[2000,2948], panelW=[926,925];
  const yP=v=>1191-v*9.41;
  label(g,2938,104,'RFXANK',52,'middle','stacked-bar-title');
  const yTitle=label(g,0,0,'Proportion (%)',44,'middle','y-axis-title');
  yTitle.setAttribute('transform','translate(1870,697) rotate(-90)');
  proportionTicks.forEach(t=>{
    seg(g,1977,yP(t),2000,yP(t),'#000',4,'y-tick');
    label(g,1961,yP(t)+13,String(t),36,'end','y-tick-label');
  });
  groupNames.forEach((name,p)=>{
    const strip=mk(g,'rect',{x:panelX[p],y:128,width:panelW[p],height:74,fill:'#d9d9d9',stroke:'#000','stroke-width':4});
    
    
    label(g,panelX[p]+panelW[p]/2,179,name,36,'middle','facet-label');
    const step=panelW[p]/barCount;
    for(let i=0;i<barCount;i++){
      let total=0;
      seriesNames.forEach((_,s)=>{total+=seriesValue(s,p,i);});
      let cum=100;
      seriesNames.forEach((_,s)=>{
        const v=seriesValue(s,p,i);
        if(!v)return;
        const h=v/total*100;
        const r=mk(g,'rect',{x:panelX[p]+i*step,y:yP(cum),width:step-0.9,height:h*9.41+0.4,fill:seriesColors[s]});
        
        
        cum-=h;
      });
    }
    const frame=mk(g,'rect',{x:panelX[p],y:202,width:panelW[p],height:991,fill:'none',stroke:'#000','stroke-width':5});
    
    
  });
  label(g,1998,1357,'group',29,'start','legend-title');
  const swX=[2094,2421,2912,3243,3650], txX=[2169,2497,2987,3318,3725];
  seriesNames.forEach((n,s)=>{
    const col=Math.floor(s/5), row=s%5, y=1213+row*52.8;
    const sw=mk(g,'rect',{x:swX[col],y:y,width:53,height:52.8,fill:seriesColors[s]});
    
    
    label(g,txX[col],y+36,n,29,'start','legend-label');
  });
})();

/* ---------- Scatter panels ---------- */
const scatterPanels=[
{id:'panelC',gene:'TNFRSF4',ys:tnfrsf4,yt:yTicksC,ym:yMinorC,fit:fitC,band:bandC,r:'0.437',x3:471,ux:142.75,left:381,right:1147,top:1636,bottom:2441,y0:2444.6,uy:141.5,sx:1123,sy:[2301,2355,2408],tlY:2513,ylR:342,xtX:764,xtY:[2576,2625],ytX:[212,262],ytY:2040},
{id:'panelD',gene:'PDCD1',ys:pdcd1,yt:yTicksD,ym:yMinorD,fit:fitD,band:bandD,r:'0.301',x3:1799,ux:145.5,left:1708,right:2488,top:1638,bottom:2441,y0:2406,uy:113,sx:2462,sy:[2302,2357,2408],tlY:2515,ylR:1670,xtX:2097,xtY:[2576,2625],ytX:[1552,1601],ytY:2044},
{id:'panelE',gene:'TNFRSF18',ys:tnfrsf18,yt:yTicksE,ym:yMinorE,fit:fitE,band:bandE,r:'0.362',x3:3084,ux:142.8,left:2994,right:3762,top:1628,bottom:2431,y0:2408,uy:105.8,sx:3738,sy:[2294,2346,2399],tlY:2505,ylR:2957,xtX:3378,xtY:[2567,2615],ytX:[2825,2874],ytY:2031},
{id:'panelF',gene:'CTLA4',ys:ctla4,yt:yTicksF,ym:yMinorF,fit:fitF,band:bandF,r:'0.216',x3:462,ux:145.3,left:372,right:1151,top:2765,bottom:3569,y0:3545,uy:179,sx:1127,sy:[3429,3482,3535],tlY:3642,ylR:335,xtX:762,xtY:[3703,3750],ytX:[216,265],ytY:3166},
{id:'panelG',gene:'LAG3',ys:lag3,yt:yTicksG,ym:yMinorG,fit:fitG,band:bandG,r:'0.252',x3:1798,ux:143,left:1709,right:2476,top:2768,bottom:3571,y0:3561.5,uy:113,sx:2451,sy:[3432,3484,3538],tlY:3643,ylR:1670,xtX:2092,xtY:[3706,3755],ytX:[1539,1589],ytY:3170},
{id:'panelH',gene:'TIGIT',ys:tigit,yt:yTicksH,ym:yMinorH,fit:fitH,band:bandH,r:'0.179',x3:3089,ux:145.3,left:2998,right:3778,top:2766,bottom:3569,y0:3548.6,uy:144.4,sx:3754,sy:[3431,3484,3536],tlY:3643,ylR:2959,xtX:3388,xtY:[3706,3755],ytX:[2843,2892],ytY:3170}];
function logTitle(parent,x,y,rotate){
  const t=label(parent,rotate?0:x,rotate?0:y,'',52,'middle','axis-title-units');
  if(rotate)t.setAttribute('transform','translate('+x+','+y+') rotate(-90)');
  const a=mk(t,'tspan',{});a.textContent='Log';
  const b=mk(t,'tspan',{dy:11,'font-size':38});b.textContent='2';
  const c=mk(t,'tspan',{dy:-11});c.textContent=' (TPM+1)';
}
scatterPanels.forEach(P=>{
  const g=document.getElementById(P.id);
  const xS=v=>P.x3+(v-3)*P.ux;
  const yS=v=>P.y0-v*P.uy;
  xMinorTicks.forEach(t=>seg(g,xS(t),P.top,xS(t),P.bottom,'#eeeeee',4.5,'grid-minor-x'));
  P.ym.forEach(t=>seg(g,P.left,yS(t),P.right,yS(t),'#eeeeee',4.5,'grid-minor-y'));
  xTicks.forEach(t=>seg(g,xS(t),P.top,xS(t),P.bottom,'#ececec',9,'grid-major-x'));
  P.yt.forEach(t=>seg(g,P.left,yS(t),P.right,yS(t),'#ececec',9,'grid-major-y'));
  rfxankBlocks.forEach((xs,b)=>{
    xs.forEach((xv,i)=>{
      const yv=P.ys[b][i];
      if(yv===undefined)return;
      const c=mk(g,'circle',{cx:xS(xv),cy:yS(yv),r:13.5,fill:'#4DBBD5','fill-opacity':0.62});
      
      
    });
  });
  const fitAt=v=>P.fit[0]+(P.fit[1]-P.fit[0])*(v-fitXRange[0])/(fitXRange[1]-fitXRange[0]);
  const hw=v=>Math.sqrt(P.band[0]*P.band[0]+Math.pow(P.band[1]*(v-4.55),2));
  const up=[],dn=[];
  for(let k=0;k<=40;k++){
    const v=fitXRange[0]+(fitXRange[1]-fitXRange[0])*k/40;
    up.push(xS(v)+','+yS(fitAt(v)+hw(v)));
    dn.unshift(xS(v)+','+yS(fitAt(v)-hw(v)));
  }
  const rb=mk(g,'polygon',{points:up.concat(dn).join(' '),fill:'#999','fill-opacity':0.2});
  
  
  const line=mk(g,'line',{x1:xS(fitXRange[0]),y1:yS(P.fit[0]),x2:xS(fitXRange[1]),y2:yS(P.fit[1]),stroke:'#4DBBD5','stroke-width':5});
  
  
  seg(g,P.left,P.top,P.left,P.bottom+2.5,'#000',5,'y-axis-line');
  seg(g,P.left,P.bottom,P.right,P.bottom,'#000',5,'x-axis-line');
  xTicks.forEach(t=>{
    seg(g,xS(t),P.bottom,xS(t),P.bottom+19,'#000',5,'x-tick');
    label(g,xS(t)+6,P.tlY,String(t),44,'middle','x-tick-label');
  });
  P.yt.forEach(t=>{
    seg(g,P.left-21,yS(t),P.left,yS(t),'#000',5,'y-tick');
    label(g,P.ylR,yS(t)+17,String(t),44,'end','y-tick-label');
  });
  label(g,P.xtX,P.xtY[0],'The expression of RFXANK',52,'middle','x-axis-title');
  logTitle(g,P.xtX,P.xtY[1],false);
  const yt=label(g,0,0,'The expression of '+P.gene,52,'middle','y-axis-title');
  yt.setAttribute('transform','translate('+P.ytX[0]+','+P.ytY+') rotate(-90)');
  logTitle(g,P.ytX[1],P.ytY,true);
  label(g,P.sx,P.sy[0],'Spearman',44,'end','stat-method');
  const r=label(g,P.sx,P.sy[1],'',44,'end','stat-r');
  const r1=mk(r,'tspan',{'font-style':'italic'});r1.textContent='R';
  const r2=mk(r,'tspan',{});r2.textContent=' = '+P.r;
  const q=label(g,P.sx,P.sy[2],'',44,'end','stat-p');
  const q1=mk(q,'tspan',{'font-style':'italic'});q1.textContent='P';
  const q2=mk(q,'tspan',{});q2.textContent=' < 0.001';
});
</script>
</body>
</html>
